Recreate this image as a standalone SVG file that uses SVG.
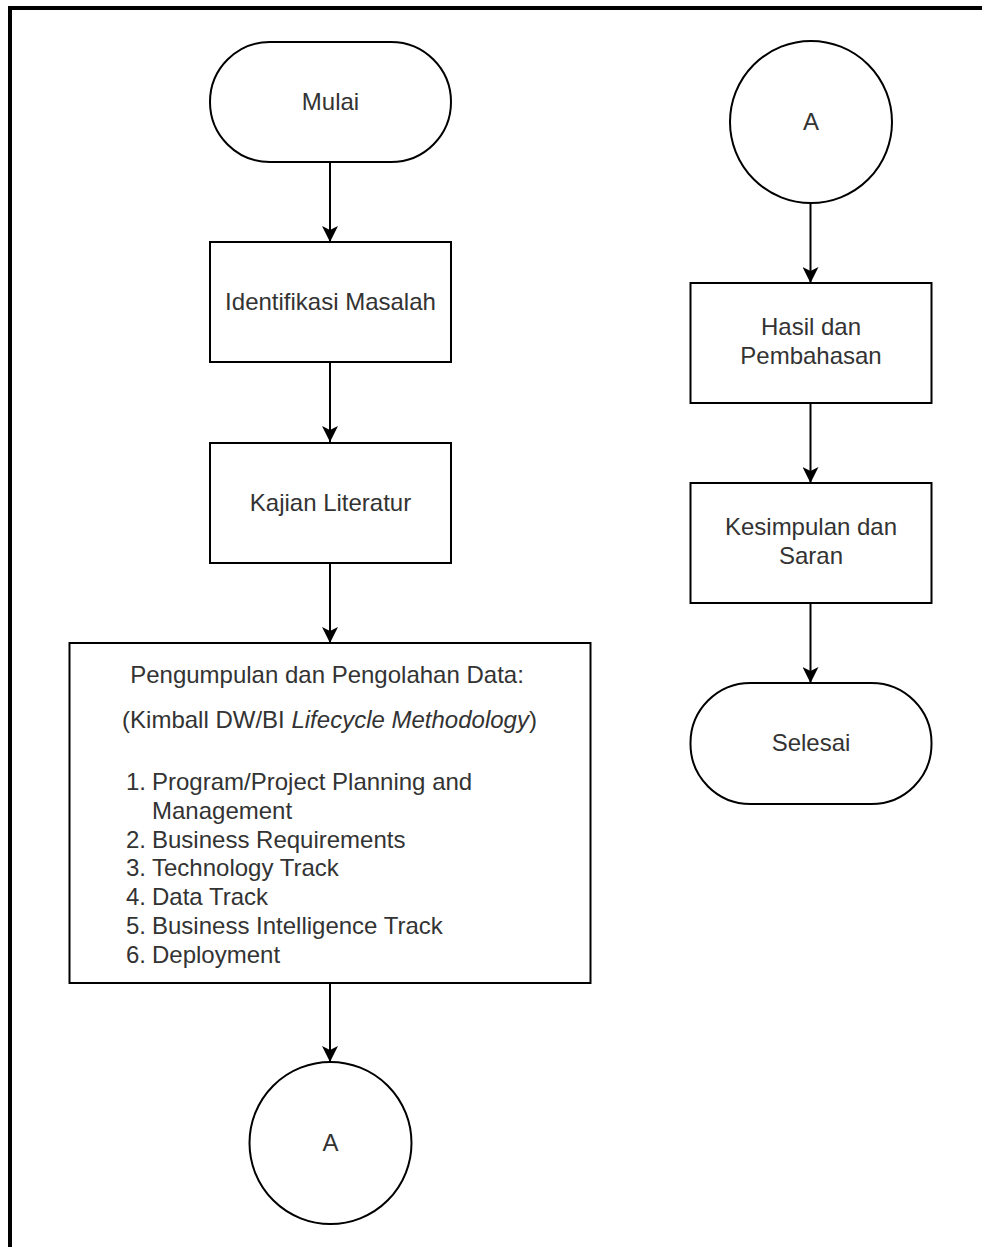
<svg xmlns="http://www.w3.org/2000/svg" width="982" height="1247" viewBox="0 0 982 1247">
  <style>
    .shape { fill: #ffffff; stroke: #000000; stroke-width: 2; }
    .lbl { font-family: "Liberation Sans", Arial, Helvetica, sans-serif; font-size: 24px; fill: #333333; }
    .c { text-anchor: middle; }
    .conn { stroke: #000000; stroke-width: 2; fill: none; marker-end: url(#ah); }
  </style>
  <defs>
    <marker id="ah" markerUnits="userSpaceOnUse" viewBox="0 0 16 16" refX="16" refY="8" markerWidth="16" markerHeight="16" orient="auto">
      <path d="M0,0 L16,8 L0,16 L4,8 Z" fill="#000000"/>
    </marker>
  </defs>
  <rect x="0" y="0" width="982" height="1247" fill="#ffffff"/>
  <path d="M10,1247 V8 H982" fill="none" stroke="#000000" stroke-width="4"/>

  <g id="connectors">
    <path class="conn" d="M330,163 V242"/>
    <path class="conn" d="M330,363 V442"/>
    <path class="conn" d="M330,564 V643"/>
    <path class="conn" d="M330,984 V1062"/>
    <path class="conn" d="M810.5,203 V283"/>
    <path class="conn" d="M810.5,403 V483"/>
    <path class="conn" d="M810.5,604 V683"/>
  </g>

  <g id="mulai">
    <rect class="shape" x="210" y="42" width="241" height="120" rx="60" ry="60"/>
    <text class="lbl c" x="330.5" y="110">Mulai</text>
  </g>
  <g id="identifikasi">
    <rect class="shape" x="210" y="242" width="241" height="120"/>
    <text class="lbl c" x="330.5" y="310">Identifikasi Masalah</text>
  </g>
  <g id="kajian">
    <rect class="shape" x="210" y="443" width="241" height="120"/>
    <text class="lbl c" x="330.5" y="511">Kajian Literatur</text>
  </g>
  <g id="pengumpulan">
    <rect class="shape" x="69.5" y="643" width="521" height="340"/>
    <text class="lbl c" x="327" y="683">Pengumpulan dan Pengolahan Data:</text>
    <text class="lbl c" x="329.5" y="728">(Kimball DW/BI <tspan font-style="italic">Lifecycle Methodology</tspan>)</text>
    <text class="lbl" x="126" y="790">1.</text><text class="lbl" x="152" y="790">Program/Project Planning and</text>
    <text class="lbl" x="152" y="818.8">Management</text>
    <text class="lbl" x="126" y="847.6">2.</text><text class="lbl" x="152" y="847.6">Business Requirements</text>
    <text class="lbl" x="126" y="876.4">3.</text><text class="lbl" x="152" y="876.4">Technology Track</text>
    <text class="lbl" x="126" y="905.2">4.</text><text class="lbl" x="152" y="905.2">Data Track</text>
    <text class="lbl" x="126" y="934">5.</text><text class="lbl" x="152" y="934">Business Intelligence Track</text>
    <text class="lbl" x="126" y="962.8">6.</text><text class="lbl" x="152" y="962.8">Deployment</text>
  </g>
  <g id="connector-a-left">
    <circle class="shape" cx="330.5" cy="1143" r="81"/>
    <text class="lbl c" x="330.5" y="1151">A</text>
  </g>
  <g id="connector-a-right">
    <circle class="shape" cx="811" cy="122" r="81"/>
    <text class="lbl c" x="811" y="130">A</text>
  </g>
  <g id="hasil">
    <rect class="shape" x="690.5" y="283" width="241" height="120"/>
    <text class="lbl c" x="811" y="334.5">Hasil dan</text>
    <text class="lbl c" x="811" y="363.5">Pembahasan</text>
  </g>
  <g id="kesimpulan">
    <rect class="shape" x="690.5" y="483" width="241" height="120"/>
    <text class="lbl c" x="811" y="535">Kesimpulan dan</text>
    <text class="lbl c" x="811" y="564">Saran</text>
  </g>
  <g id="selesai">
    <rect class="shape" x="690.5" y="683" width="241" height="121" rx="60" ry="60"/>
    <text class="lbl c" x="811" y="751">Selesai</text>
  </g>
</svg>
